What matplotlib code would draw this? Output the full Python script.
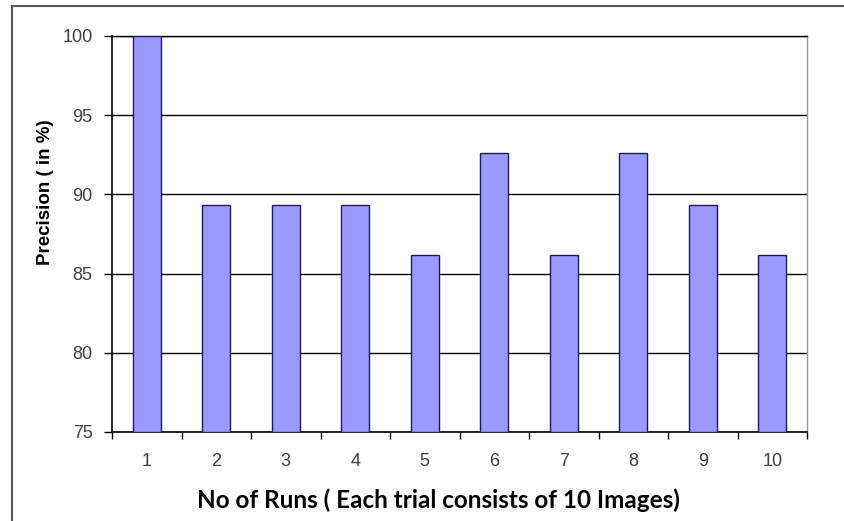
import matplotlib.pyplot as plt
import numpy as np

runs = ['1', '2', '3', '4', '5', '6', '7', '8', '9', '10']
precision = [100, 89.3, 89.3, 89.3, 86.2, 92.6, 86.2, 92.6, 89.3, 86.2]
y_ticks = [75, 80, 85, 90, 95, 100]

tick_font = ['Liberation Sans Narrow', 'Liberation Sans', 'DejaVu Sans']

fig = plt.figure(figsize=(8.44, 5.21), dpi=100)
ax = fig.add_axes([112 / 844, 1 - 432 / 521, 695 / 844, 396 / 521])

x = np.arange(1, len(runs) + 1)
ax.bar(x, [p - 75 for p in precision], bottom=75, width=0.4,
       color='#9999FF', edgecolor='#1a1a5e', linewidth=1.0, zorder=3)

ax.set_xlim(0.5, 10.5)
ax.set_ylim(75, 100)
ax.set_yticks(y_ticks)
ax.set_xticks(x)
ax.set_xticklabels(runs)
ax.set_xticks(np.arange(0.5, 11, 1), minor=True)
ax.tick_params(axis='x', which='major', length=0, pad=15,
               labelsize=13, labelcolor='#404040')
ax.tick_params(axis='x', which='minor', length=5, width=1, direction='out')
ax.tick_params(axis='y', length=6, width=1, direction='out', pad=8,
               labelsize=13, labelcolor='#404040')
ax.yaxis.grid(True, color='black', linewidth=1.0, zorder=0)

for side in ['left', 'bottom']:
    ax.spines[side].set_linewidth(1.2)
    ax.spines[side].set_color('black')
ax.spines['top'].set_color('black')
ax.spines['top'].set_linewidth(1.0)
ax.spines['right'].set_color('#999999')
ax.spines['right'].set_linewidth(1.0)

ax.set_ylabel('Precision ( in %)', fontsize=13.5, fontweight='bold',
              family=tick_font)
ax.yaxis.set_label_coords(-0.0835, 0.606)
ax.set_xlabel('No of Runs ( Each trial consists of 10 Images)', fontsize=17.5,
              fontweight='bold', family=['Lato', 'DejaVu Sans'])
ax.xaxis.set_label_coords(0.47, -0.143)
for lab in ax.get_xticklabels() + ax.get_yticklabels():
    lab.set_family(tick_font)

# outer chart frame (only top and left visible in the crop)
fig.add_artist(plt.Line2D([12 / 844, 1], [1 - 6 / 521, 1 - 6 / 521],
                          color='#555555', linewidth=1.5))
fig.add_artist(plt.Line2D([12 / 844, 12 / 844], [0, 1 - 6 / 521],
                          color='#555555', linewidth=1.5))

fig.savefig('out.png', dpi=100)
